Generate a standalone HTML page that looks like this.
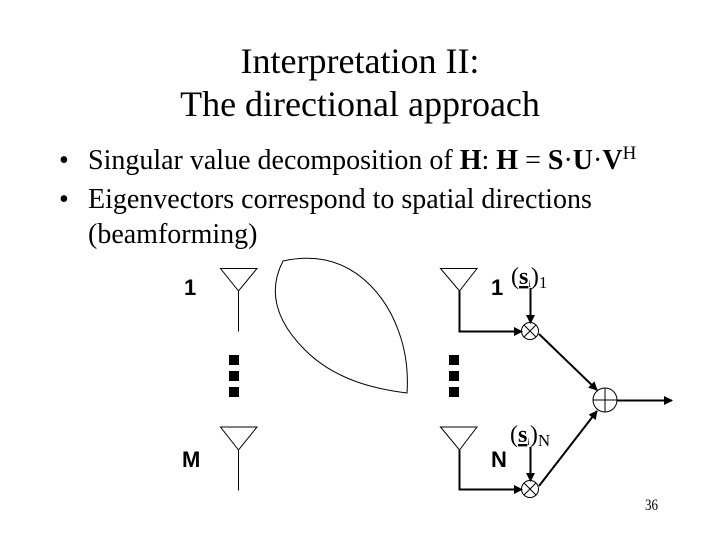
<!DOCTYPE html>
<html><head><meta charset="utf-8"><style>
html,body{margin:0;padding:0;background:#fff}
svg{display:block}
.t{font-family:"Liberation Serif",serif;fill:#000}
.a{font-family:"Liberation Sans",sans-serif;fill:#000;font-size:22px;font-weight:bold}
</style></head><body>
<svg width="720" height="540" viewBox="0 0 720 540" xmlns="http://www.w3.org/2000/svg">
<defs><marker id="h" markerWidth="11" markerHeight="10" refX="8" refY="5" orient="auto" markerUnits="userSpaceOnUse"><path d="M0 0.500L9 5L0 9.500Z" fill="#000"/></marker></defs>
<rect width="720" height="540" fill="#fff"/>
<text class="t" x="360" y="73" font-size="36" text-anchor="middle">Interpretation II:</text>
<text class="t" x="360" y="116" font-size="36" text-anchor="middle">The directional approach</text>
<g font-size="28">
<text class="t" x="59" y="169">•</text>
<text class="t" x="88" y="169">Singular value decomposition of <tspan font-weight="bold">H</tspan>: <tspan font-weight="bold">H</tspan> = <tspan font-weight="bold">S</tspan>·<tspan font-weight="bold">U</tspan>·<tspan font-weight="bold">V</tspan><tspan font-size="19" dy="-10">H</tspan></text>
<text class="t" x="59" y="208">•</text>
<text class="t" x="88" y="208">Eigenvectors correspond to spatial directions</text>
<text class="t" x="88" y="243">(beamforming)</text>
</g>
<g fill="none" stroke="#000" stroke-width="1">
<path d="M220.500 268.500H257L238.500 291ZM238.500 291V331.500"/>
<path d="M220.500 427H257L238.500 450ZM238.500 450V490.500"/>
<path d="M440.500 268.500H477L459.500 291ZM440.500 427H477L459.500 450Z"/>
<path d="M283 261C315 254 345 260 370 285C395 310 410 350 407 393C375 389 335 380 305 350C275 320 268 290 283 261Z"/>
<circle cx="530" cy="331" r="8.500"/><path d="M524 325L536 337M536 325L524 337"/>
<circle cx="530" cy="489" r="8.500"/><path d="M524 483L536 495M536 483L524 495"/>
<circle cx="605" cy="400" r="12"/><path d="M593 400H617M605 388V412"/>
</g>
<g fill="none" stroke="#000" stroke-width="2">
<path d="M459.500 291V331.500H522" marker-end="url(#h)"/>
<path d="M459.500 450V489.500H522" marker-end="url(#h)"/>
<path d="M530.500 288V323" marker-end="url(#h)"/>
<path d="M530.500 447V481" marker-end="url(#h)"/>
<path d="M539 334L597 390" marker-end="url(#h)"/>
<path d="M539 486L597 411" marker-end="url(#h)"/>
<path d="M617 400.500H672" marker-end="url(#h)"/>
</g>
<g fill="#000">
<rect x="229" y="355" width="10" height="10"/><rect x="229" y="371" width="10" height="10"/><rect x="229" y="387" width="10" height="10"/>
<rect x="449" y="355" width="10" height="10"/><rect x="449" y="371" width="10" height="10"/><rect x="449" y="387" width="10" height="10"/>
</g>
<text class="a" x="184" y="295">1</text>
<text class="a" x="182" y="467">M</text>
<text class="a" x="491" y="295">1</text>
<text class="a" x="491" y="467">N</text>
<text class="t" x="511" y="284" font-size="24">(<tspan font-weight="bold" text-decoration="underline">s</tspan><tspan font-size="9" dy="3">i</tspan><tspan dy="-3">)</tspan><tspan font-size="17" dy="4">1</tspan></text>
<text class="t" x="510" y="442" font-size="24">(<tspan font-weight="bold" text-decoration="underline">s</tspan><tspan font-size="9" dy="3">i</tspan><tspan dy="-3">)</tspan><tspan font-size="17" dy="4">N</tspan></text>
<text class="t" transform="translate(645 510) scale(1 1.2)" font-size="13">36</text>
</svg>
</body></html>
